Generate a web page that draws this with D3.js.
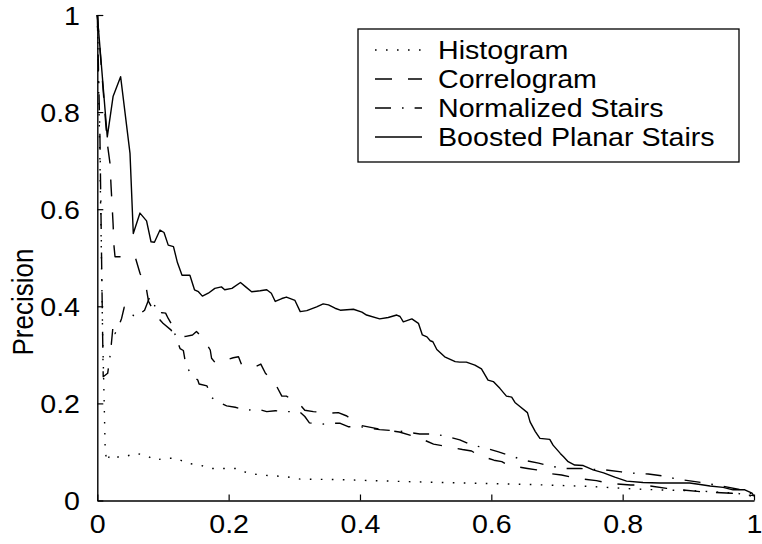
<!DOCTYPE html>
<html>
<head>
<meta charset="utf-8">
<script src="https://cdn.jsdelivr.net/npm/d3@7"></script>
<style>
  html, body { margin: 0; padding: 0; background: #fff; }
  svg { display: block; }
  text { font-family: "Liberation Sans", Arial, Helvetica, sans-serif; fill: #000; }
</style>
</head>
<body>
<svg id="chart" width="762" height="544"></svg>
<script>
// Precision / recall curves for four retrieval methods
const xTicks = [0, 0.2, 0.4, 0.6, 0.8, 1];
const yTicks = [0, 0.2, 0.4, 0.6, 0.8, 1];
const yLabel = "Precision";
const seriesNames = ["Histogram", "Correlogram", "Normalized Stairs", "Boosted Planar Stairs"];

const histRecall = [0, 0.004, 0.008, 0.0105, 0.012, 0.0143, 0.0193, 0.027, 0.04, 0.057, 0.073, 0.088, 0.103, 0.121, 0.136, 0.156, 0.174, 0.212, 0.23, 0.25, 0.288, 0.309, 0.367, 0.47, 0.557, 0.659, 0.75, 0.8, 0.85, 0.91, 0.974, 1.0];
const histPrecision = [1.0, 0.7, 0.35, 0.2, 0.105, 0.08, 0.094, 0.09, 0.089, 0.097, 0.094, 0.083, 0.087, 0.087, 0.077, 0.073, 0.066, 0.066, 0.056, 0.0525, 0.049, 0.044, 0.043, 0.039, 0.036, 0.033, 0.029, 0.025, 0.022, 0.02, 0.015, 0.008];

const corrRecall = [0, 0.0152, 0.0193, 0.021, 0.024, 0.0255, 0.027, 0.035, 0.058, 0.065, 0.075, 0.078, 0.09, 0.1, 0.1125, 0.116, 0.126, 0.135, 0.145, 0.151, 0.161, 0.172, 0.174, 0.18, 0.19, 0.207, 0.215, 0.22, 0.23, 0.241, 0.249, 0.256, 0.265, 0.272, 0.281, 0.288, 0.3, 0.309, 0.316, 0.329, 0.354, 0.367, 0.38, 0.4, 0.43, 0.46, 0.48, 0.497, 0.512, 0.529, 0.556, 0.57, 0.579, 0.604, 0.616, 0.627, 0.655, 0.669, 0.679, 0.707, 0.73, 0.76, 0.781, 0.812, 0.832, 0.867, 0.92, 0.966, 1.0];
const corrPrecision = [1.0, 0.736, 0.695, 0.646, 0.571, 0.523, 0.502, 0.502, 0.5, 0.468, 0.434, 0.41, 0.38, 0.365, 0.351, 0.339, 0.337, 0.338, 0.341, 0.348, 0.334, 0.31, 0.293, 0.283, 0.287, 0.294, 0.296, 0.279, 0.278, 0.276, 0.281, 0.262, 0.25, 0.238, 0.215, 0.215, 0.205, 0.197, 0.186, 0.183, 0.18, 0.181, 0.174, 0.155, 0.147, 0.141, 0.133, 0.125, 0.116, 0.112, 0.105, 0.102, 0.094, 0.083, 0.08, 0.072, 0.066, 0.063, 0.057, 0.0525, 0.0457, 0.041, 0.035, 0.032, 0.032, 0.025, 0.018, 0.015, 0.01];

const normRecall = [0, 0.004, 0.007, 0.009, 0.0158, 0.019, 0.021, 0.024, 0.027, 0.031, 0.037, 0.041, 0.045, 0.058, 0.072, 0.08, 0.088, 0.094, 0.098, 0.104, 0.108, 0.114, 0.12, 0.126, 0.131, 0.134, 0.141, 0.153, 0.155, 0.167, 0.174, 0.187, 0.197, 0.21, 0.227, 0.245, 0.258, 0.271, 0.288, 0.308, 0.316, 0.323, 0.339, 0.359, 0.37, 0.382, 0.4, 0.43, 0.46, 0.491, 0.512, 0.529, 0.552, 0.57, 0.589, 0.611, 0.63, 0.649, 0.672, 0.69, 0.71, 0.735, 0.755, 0.773, 0.798, 0.819, 0.839, 0.864, 0.883, 0.92, 0.95, 0.98, 1.0];
const normPrecision = [1.0, 0.75, 0.45, 0.255, 0.262, 0.293, 0.317, 0.36, 0.344, 0.353, 0.375, 0.398, 0.394, 0.377, 0.392, 0.42, 0.4, 0.384, 0.387, 0.386, 0.375, 0.361, 0.335, 0.313, 0.309, 0.286, 0.263, 0.248, 0.24, 0.236, 0.212, 0.201, 0.195, 0.192, 0.186, 0.188, 0.183, 0.185, 0.183, 0.183, 0.173, 0.16, 0.157, 0.159, 0.159, 0.152, 0.152, 0.146, 0.143, 0.137, 0.137, 0.133, 0.125, 0.114, 0.109, 0.1, 0.092, 0.083, 0.077, 0.071, 0.066, 0.066, 0.064, 0.063, 0.059, 0.056, 0.0546, 0.05, 0.044, 0.037, 0.03, 0.022, 0.012];

const boostRecall = [0, 0.0152, 0.024, 0.0355, 0.0498, 0.0548, 0.065, 0.075, 0.0818, 0.087, 0.0955, 0.1016, 0.108, 0.116, 0.122, 0.129, 0.141, 0.148, 0.154, 0.16, 0.169, 0.179, 0.189, 0.194, 0.205, 0.218, 0.226, 0.235, 0.248, 0.258, 0.265, 0.271, 0.281, 0.288, 0.301, 0.309, 0.319, 0.334, 0.344, 0.352, 0.362, 0.37, 0.39, 0.403, 0.41, 0.43, 0.443, 0.456, 0.461, 0.466, 0.479, 0.489, 0.495, 0.502, 0.507, 0.511, 0.517, 0.529, 0.545, 0.552, 0.562, 0.575, 0.585, 0.595, 0.603, 0.613, 0.623, 0.631, 0.636, 0.644, 0.655, 0.659, 0.667, 0.674, 0.689, 0.694, 0.705, 0.71, 0.717, 0.727, 0.74, 0.755, 0.771, 0.788, 0.806, 0.831, 0.857, 0.902, 0.918, 0.933, 0.953, 0.968, 0.986, 0.997, 1.0];
const boostPrecision = [1.0, 0.749, 0.832, 0.873, 0.715, 0.55, 0.592, 0.576, 0.533, 0.532, 0.557, 0.552, 0.526, 0.523, 0.49, 0.464, 0.464, 0.434, 0.43, 0.421, 0.427, 0.437, 0.44, 0.434, 0.437, 0.449, 0.44, 0.43, 0.432, 0.434, 0.427, 0.41, 0.416, 0.419, 0.412, 0.389, 0.391, 0.399, 0.405, 0.403, 0.396, 0.392, 0.394, 0.388, 0.382, 0.374, 0.377, 0.382, 0.379, 0.368, 0.374, 0.365, 0.341, 0.337, 0.329, 0.327, 0.311, 0.296, 0.286, 0.285, 0.285, 0.279, 0.271, 0.248, 0.245, 0.231, 0.215, 0.213, 0.202, 0.193, 0.181, 0.162, 0.142, 0.128, 0.126, 0.114, 0.097, 0.09, 0.08, 0.073, 0.072, 0.063, 0.057, 0.048, 0.04, 0.037, 0.036, 0.036, 0.033, 0.03, 0.027, 0.022, 0.022, 0.015, 0.009];

// line styles: dotted, dashed, dash-dot, solid
const dashStyles = ["1.6,9.4", "17,16", "16,11,1.6,11", null];

const svg = d3.select("#chart");
const plot = { left: 97.3, right: 754, top: 15, bottom: 500.5 };
const FONT = 26, SX = 1.1; // glyphs are drawn slightly wide

const x = d3.scaleLinear().domain([0, 1]).range([plot.left, plot.right]);
const y = d3.scaleLinear().domain([0, 1]).range([plot.bottom, plot.top]);

const series = [
  { name: seriesNames[0], xs: histRecall, ys: histPrecision, dash: dashStyles[0] },
  { name: seriesNames[1], xs: corrRecall, ys: corrPrecision, dash: dashStyles[1] },
  { name: seriesNames[2], xs: normRecall, ys: normPrecision, dash: dashStyles[2] },
  { name: seriesNames[3], xs: boostRecall, ys: boostPrecision, dash: dashStyles[3] }
];

const line = d3.line().x(d => x(d[0])).y(d => y(d[1]));

// curves
const curves = svg.append("g").attr("class", "curves");
series.forEach(s => {
  const pts = s.xs.map((v, i) => [v, s.ys[i]]);
  curves.append("path")
    .datum(pts)
    .attr("d", line)
    .attr("fill", "none")
    .attr("stroke", "#000")
    .attr("stroke-width", 1.4)
    .attr("stroke-linejoin", "round")
    .attr("stroke-dasharray", s.dash);
});

// axes (left and bottom only, ticks pointing inward)
const xAxis = d3.axisBottom(x).tickValues(xTicks).tickFormat(d => String(d))
  .tickSizeInner(-6).tickSizeOuter(0).tickPadding(14);
const yAxis = d3.axisLeft(y).tickValues(yTicks).tickFormat(d => String(d))
  .tickSizeInner(-6).tickSizeOuter(0).tickPadding(15.7);

const gx = svg.append("g").attr("transform", `translate(0,${plot.bottom})`).call(xAxis);
const gy = svg.append("g").attr("transform", `translate(${plot.left},0)`).call(yAxis);

[gx, gy].forEach(g => {
  g.select(".domain").attr("stroke", "#000").attr("stroke-width", 1.4);
  g.selectAll(".tick line").attr("stroke", "#000").attr("stroke-width", 1.2);
  g.selectAll(".tick text")
    .attr("font-family", "Liberation Sans, Arial, sans-serif")
    .attr("font-size", FONT)
    .attr("fill", "#000")
    .attr("transform", `scale(${SX},1)`);
});
gy.selectAll(".tick text").attr("dy", "0.36em");
gx.selectAll(".tick text").attr("dy", "0.72em");

// y axis title
svg.append("text")
  .attr("transform", `translate(33,302) scale(${SX},1) rotate(-90)`)
  .attr("text-anchor", "middle")
  .attr("font-size", FONT)
  .text(yLabel);

// legend
const legend = { x0: 358, y0: 29, x1: 739, y1: 162 };
const lg = svg.append("g").attr("class", "legend");
lg.append("rect")
  .attr("x", legend.x0).attr("y", legend.y0)
  .attr("width", legend.x1 - legend.x0).attr("height", legend.y1 - legend.y0)
  .attr("fill", "#fff").attr("stroke", "#000").attr("stroke-width", 1.3);

const rowY = d3.scalePoint().domain(seriesNames).range([50, 137]);
series.forEach(s => {
  const cy = rowY(s.name);
  lg.append("line")
    .attr("x1", 375).attr("x2", 422).attr("y1", cy).attr("y2", cy)
    .attr("stroke", "#000").attr("stroke-width", 1.4)
    .attr("stroke-dasharray", s.dash);
  lg.append("text")
    .attr("transform", `translate(438,${cy}) scale(${SX},1)`)
    .attr("dy", "0.36em")
    .attr("font-size", FONT)
    .text(s.name);
});
</script>
</body>
</html>
